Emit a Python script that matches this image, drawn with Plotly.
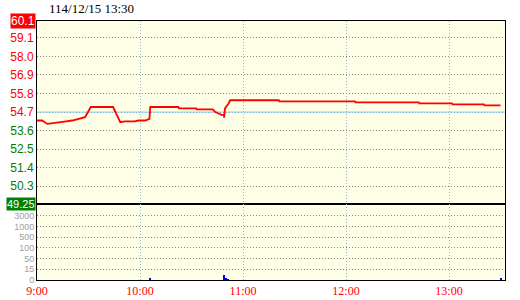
import numpy as np
import plotly.graph_objects as go

DATE = "2025-12-15"
TITLE = "114/12/15 13:30"
PREV_CLOSE = 54.7
LIMIT_UP = 60.1
LIMIT_DOWN = 49.25

price_times = ["09:00:00", "09:03:00", "09:06:00", "09:09:00", "09:11:30", "09:17:00",
               "09:20:30", "09:23:40", "09:28:00", "09:31:20", "09:44:20", "09:48:30",
               "09:51:20", "09:57:00", "09:59:00", "10:03:00", "10:05:30", "10:06:00",
               "10:22:20", "10:22:40", "10:32:40", "10:33:00", "10:42:20", "10:43:40",
               "10:45:40", "10:47:40", "10:48:50", "10:49:00", "10:49:30", "10:50:40",
               "10:51:40", "10:52:30", "11:20:50", "11:21:10", "12:05:10", "12:05:30",
               "12:42:20", "12:42:40", "13:01:40", "13:02:00", "13:20:20", "13:20:40",
               "13:30:00"]
price_values = [54.20, 54.20, 54.00, 54.05, 54.10, 54.15,
                54.20, 54.30, 54.40, 55.00, 55.00, 54.10,
                54.15, 54.15, 54.20, 54.20, 54.30, 55.00,
                55.00, 54.92, 54.92, 54.86, 54.86, 54.72,
                54.60, 54.53, 54.58, 54.37, 54.92, 55.06,
                55.22, 55.40, 55.40, 55.34, 55.34, 55.28,
                55.28, 55.22, 55.22, 55.16, 55.16, 55.10,
                55.10]

vol_times = ["10:06", "10:49", "10:50", "10:51", "13:30"]
vol_values = [2, 7, 3, 1, 2]

price_ticks = [59.1, 58.0, 56.9, 55.8, 54.7, 53.6, 52.5, 51.4, 50.3]
vol_levels = [0, 15, 50, 100, 500, 1000, 3000]
vol_labels = ["0", "15", "50", "100", "500", "1000", "3000"]
hour_ticks = ["09:00", "10:00", "11:00", "12:00", "13:00"]
hour_labels = ["9:00", "10:00", "11:00", "12:00", "13:00"]

RED = "#ff0000"
GREEN = "#008000"

def ts(t):
    return f"{DATE} {t}"

X_START = ts("09:00:00")
X_END = ts("13:32:36")

px_ = [ts(t) for t in price_times]
vx = [ts(t) for t in vol_times]
vol_pos = list(range(len(vol_levels)))
vy = np.interp(vol_values, vol_levels, vol_pos)

fig = go.Figure()
# previous close reference line
fig.add_trace(go.Scatter(x=[X_START, X_END], y=[PREV_CLOSE, PREV_CLOSE], mode="lines",
                         line=dict(color="#87cefa", width=1), xaxis="x", yaxis="y",
                         showlegend=False, hoverinfo="skip"))
fig.add_trace(go.Scatter(x=px_, y=price_values, mode="lines",
                         line=dict(color=RED, width=1.8), xaxis="x", yaxis="y",
                         showlegend=False, hoverinfo="skip"))
fig.add_trace(go.Bar(x=vx, y=vy, marker=dict(color="#0000ff", line=dict(width=0)),
                     width=35000, xaxis="x2", yaxis="y2", showlegend=False,
                     hoverinfo="skip"))

price_ticktext = [
    f'<span style="color:{RED if v >= PREV_CLOSE else GREEN}">{v:.1f}</span>'
    for v in price_ticks
]

split = 76 / 259
xcommon = dict(
    type="date",
    range=[X_START, X_END],
    tickvals=[ts(t) for t in hour_ticks],
    ticktext=hour_labels,
    showgrid=True, gridcolor="#8fb8d6", griddash="1px,2px", gridwidth=1,
    showline=True, linecolor="black", linewidth=1, mirror=True,
    ticks="", zeroline=False, automargin=False,
)
fig.update_layout(
    width=520, height=300,
    margin=dict(l=37, r=15, t=21, b=20, pad=0, autoexpand=False),
    paper_bgcolor="white", plot_bgcolor="#fffee6",
    title=dict(text=TITLE, x=49 / 520, xanchor="left", xref="container",
               y=1 - 8.5 / 300, yanchor="middle", yref="container", automargin=False,
               font=dict(family="Liberation Serif", size=13, color="black")),
    xaxis=dict(**xcommon, anchor="y", showticklabels=False),
    xaxis2=dict(**xcommon, anchor="y2", matches="x", showticklabels=True,
                tickfont=dict(family="Liberation Serif", size=12, color=RED)),
    yaxis=dict(domain=[split, 1], range=[LIMIT_DOWN, LIMIT_UP],
               tickvals=price_ticks, ticktext=price_ticktext,
               tickfont=dict(family="Liberation Sans", size=12, color=RED),
               showgrid=True, gridcolor="#8c8c8c", griddash="1px,2px", gridwidth=1,
               showline=True, linecolor="black", linewidth=1, mirror=True,
               ticks="", zeroline=False, anchor="x", automargin=False),
    yaxis2=dict(domain=[0, split], range=[0, 7.09],
                tickvals=vol_pos, ticktext=vol_labels,
                tickfont=dict(family="Liberation Sans", size=9, color="#a0a0a0"),
                showgrid=True, gridcolor="#8c8c8c", griddash="1px,2px", gridwidth=1,
                showline=True, linecolor="black", linewidth=1, mirror=True,
                ticks="", zeroline=False, anchor="x2", automargin=False),
    bargap=0,
    annotations=[
        dict(text=f"{LIMIT_UP:.1f}", xref="paper", x=0, xanchor="right", xshift=-1,
             yref="y", y=LIMIT_UP, yanchor="middle", showarrow=False,
             bgcolor=RED, borderpad=0,
             font=dict(family="Liberation Sans", size=12, color="white")),
        dict(text=f"{LIMIT_DOWN:.2f}", xref="paper", x=0, xanchor="right", xshift=-1,
             yref="y", y=LIMIT_DOWN, yanchor="middle", showarrow=False,
             bgcolor=GREEN, borderpad=0,
             font=dict(family="Liberation Sans", size=11, color="white")),
    ],
)

fig.write_html("out.html", config=dict(displayModeBar=False))
